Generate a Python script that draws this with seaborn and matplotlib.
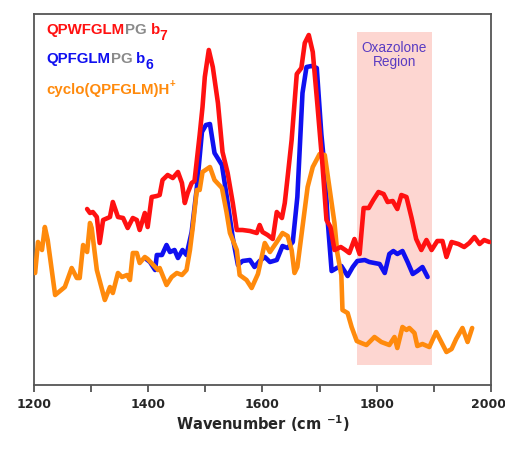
import numpy as np
import pandas as pd
import seaborn as sns
from matplotlib import pyplot as plt
from matplotlib.transforms import ScaledTranslation

# spectra, intensity in arbitrary units
wn_b7 = [1293, 1298, 1303, 1310, 1315, 1321, 1333, 1338, 1347, 1356,
         1364, 1373, 1380, 1385, 1394, 1399, 1406, 1415, 1420, 1425,
         1434, 1443, 1452, 1459, 1464, 1469, 1476, 1481, 1490, 1495,
         1499, 1506, 1513, 1522, 1530, 1539, 1548, 1555, 1565, 1578,
         1590, 1595, 1600, 1609, 1618, 1625, 1634, 1639, 1644, 1651,
         1660, 1668, 1674, 1681, 1688, 1696, 1705, 1712, 1719, 1726,
         1737, 1745, 1752, 1761, 1770, 1777, 1786, 1794, 1803, 1812,
         1819, 1828, 1836, 1843, 1852, 1861, 1869, 1878, 1887, 1896,
         1906, 1915, 1922, 1931, 1943, 1953, 1962, 1971, 1980, 1988,
         1997]
int_b7 = [176, 172, 173, 168, 142, 165, 168, 183, 168, 167,
          157, 167, 165, 155, 172, 158, 188, 189, 190, 205,
          210, 207, 213, 202, 182, 192, 202, 204, 250, 278,
          308, 335, 318, 282, 233, 212, 182, 155, 155, 154,
          152, 160, 153, 150, 146, 173, 167, 182, 208, 245,
          311, 317, 342, 350, 333, 281, 220, 165, 158, 135,
          138, 135, 132, 146, 131, 177, 177, 185, 193, 191,
          183, 184, 176, 190, 188, 167, 146, 135, 145, 135,
          144, 144, 128, 143, 141, 138, 142, 148, 141, 145,
          143]

wn_b6 = [1394, 1403, 1412, 1415, 1424, 1432, 1438, 1446, 1452, 1460,
         1467, 1476, 1485, 1494, 1501, 1508, 1516, 1529, 1537, 1548,
         1557, 1565, 1578, 1586, 1595, 1604, 1613, 1625, 1635, 1644,
         1653, 1661, 1670, 1677, 1686, 1695, 1703, 1709, 1714, 1721,
         1730, 1738, 1749, 1758, 1766, 1779, 1787, 1796, 1805, 1814,
         1822, 1829, 1836, 1845, 1854, 1863, 1871, 1880, 1889]
int_b6 = [127, 123, 115, 130, 130, 140, 133, 135, 127, 135,
          130, 153, 197, 253, 260, 261, 232, 220, 190, 147,
          120, 124, 125, 118, 124, 128, 123, 125, 139, 137,
          143, 188, 292, 318, 319, 317, 251, 215, 165, 114,
          117, 119, 109, 118, 124, 125, 123, 122, 121, 112,
          131, 134, 131, 134, 123, 111, 114, 118, 108]

wn_cyc = [1202, 1207, 1214, 1219, 1224, 1237, 1254, 1266, 1275, 1280,
          1286, 1293, 1298, 1301, 1310, 1324, 1333, 1338, 1347, 1354,
          1363, 1368, 1373, 1380, 1385, 1394, 1399, 1417, 1420, 1432,
          1441, 1450, 1459, 1467, 1473, 1478, 1485, 1490, 1495, 1508,
          1516, 1529, 1537, 1543, 1555, 1560, 1572, 1581, 1592, 1604,
          1613, 1625, 1635, 1644, 1651, 1656, 1661, 1670, 1679, 1688,
          1700, 1709, 1717, 1726, 1731, 1738, 1740, 1749, 1756, 1765,
          1773, 1782, 1796, 1808, 1822, 1831, 1836, 1845, 1852, 1857,
          1866, 1871, 1880, 1892, 1904, 1913, 1922, 1931, 1939, 1950,
          1959, 1967]
int_cyc = [112, 143, 135, 158, 145, 90, 98, 117, 107, 107,
           140, 133, 162, 157, 115, 85, 98, 92, 112, 108,
           110, 105, 132, 132, 122, 128, 126, 115, 117, 100,
           108, 112, 110, 115, 135, 158, 195, 195, 213, 218,
           205, 197, 173, 152, 135, 110, 105, 97, 111, 142,
           133, 143, 152, 149, 135, 112, 118, 158, 198, 218,
           231, 230, 198, 162, 132, 110, 75, 72, 58, 44,
           42, 40, 48, 43, 40, 48, 37, 58, 55, 57,
           52, 39, 41, 38, 53, 43, 33, 36, 46, 57,
           43, 57]

series = ["b6", "cyclo", "b7"]
colors = {"b7": "#ff1111", "b6": "#1010f0", "cyclo": "#ff8a0c"}
oxazolone = (1765, 1897)

df = pd.concat([
    pd.DataFrame({"wn": wn_b6, "y": int_b6, "ion": "b6"}),
    pd.DataFrame({"wn": wn_cyc, "y": int_cyc, "ion": "cyclo"}),
    pd.DataFrame({"wn": wn_b7, "y": int_b7, "ion": "b7"}),
])

sns.set_style("ticks")
plt.rcParams["font.family"] = ["DejaVu Sans"]

fig = plt.figure(figsize=(5.05, 4.59), dpi=100)
ax = fig.add_axes([0.0673, 0.1612, 0.905, 0.8083])

ax.axvspan(*oxazolone, ymin=0.054, ymax=0.951, color="#fdd6d1", lw=0, zorder=0)
ax.text(sum(oxazolone) / 2, 0.89, "Oxazolone\nRegion", transform=ax.get_xaxis_transform(),
        ha="center", va="center", color="#5a3cc2", fontsize=9.8,
        family="Liberation Sans", linespacing=1.0)

for z, ion in enumerate(series):
    sns.lineplot(data=df[df.ion == ion], x="wn", y="y", color=colors[ion],
                 lw=3.3, ax=ax, legend=False, zorder=2 + z, sort=False)

ax.set_xlim(1200, 2000)
ax.set_ylim(0, 371)
ax.set_xticks(np.arange(1200, 2001, 200))
ax.set_xticks(np.arange(1300, 2000, 200), minor=True)
ax.set_yticks([])
ax.tick_params(axis="x", which="both", direction="out", length=5, width=1.2,
               color="#444444", labelsize=9.0, pad=4)
labels = ax.get_xticklabels()
for lab in labels:
    lab.set_fontweight("bold")
# last label sits a touch left so it stays inside the figure
labels[-1].set_transform(labels[-1].get_transform()
                         + ScaledTranslation(-3 / 100, 0, fig.dpi_scale_trans))
for sp in ax.spines.values():
    sp.set_visible(True)
    sp.set_color("#555555")
    sp.set_linewidth(1.3)
ax.set_ylabel("")
ax.set_xlabel(r"Wavenumber (cm $^{\mathbf{-1}}$)", fontsize=10.5, fontweight="bold",
              labelpad=2)

# legend made of coloured text pieces
grey = "#8a8a8a"
rows = [
    (0.946, [("QPWFGLM", colors["b7"], 0), ("PG", grey, 0), (" b", colors["b7"], 0),
             ("7", colors["b7"], -1)]),
    (0.868, [("QPFGLM", colors["b6"], 0), ("PG", grey, 0), (" b", colors["b6"], 0),
             ("6", colors["b6"], -1)]),
    (0.784, [("cyclo(QPFGLM)H", colors["cyclo"], 0), ("+", colors["cyclo"], 1)]),
]
for ypos, parts in rows:
    prev = None
    for txt, col, shift in parts:
        kw = dict(color=col, fontweight="bold", family="Liberation Sans",
                  fontsize={0: 10.8, -1: 10, 1: 7}[shift])
        if prev is None:
            prev = ax.text(0.028, ypos, txt, transform=ax.transAxes, va="baseline", **kw)
        else:
            off = {0: 0, -1: -4, 1: 6}[shift]
            prev = ax.annotate(txt, xy=(1, 0), xycoords=prev, xytext=(0, off),
                               textcoords="offset points", va="bottom", **kw)

fig.savefig("out.png", dpi=100)
